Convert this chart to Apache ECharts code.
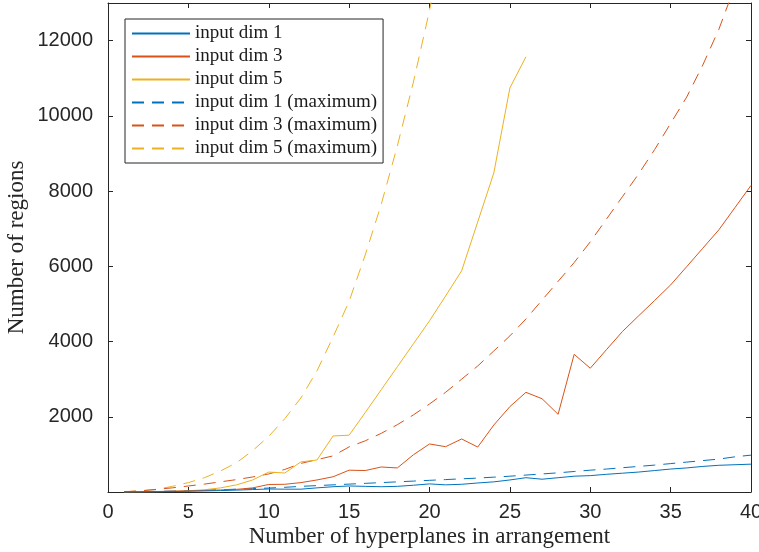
<!DOCTYPE html>
<html>
<head>
<meta charset="utf-8">
<script src="https://cdn.jsdelivr.net/npm/echarts@6/dist/echarts.min.js"></script>
<style>html,body{margin:0;padding:0;background:#fff;overflow:hidden;}#c{width:759px;height:552px;}</style>
</head>
<body>
<div id="c"></div>
<script>
var hyperplanes = [];
for (var i = 1; i <= 40; i++) hyperplanes.push(i);

var dim1 = [2,4,7,12,20,28,38,50,65,80,75,75,110,140,160,150,140,150,180,215,190,205,240,270,320,380,340,380,420,435,470,500,530,570,610,640,680,710,725,740];
var dim3 = [2,6,12,20,30,40,55,70,110,200,205,250,320,405,580,570,665,640,990,1277,1205,1410,1195,1780,2270,2650,2480,2065,3660,3290,3780,4265,4680,5090,5505,5990,6480,6970,7560,8150];
var dim5 = [2,4,8,16,32,60,110,190,320,530,505,800,850,1490,1510,2110,2720,3330,3940,4550,5210,5880,7180,8480,10740,11570];
var dim1Max = [5,10,18,25,35,45,60,75,90,105,125,150,170,190,210,230,250,270,290,310,330,350,370,395,420,450,480,510,545,580,610,645,680,715,755,795,835,875,935,980];
var dim3Max = [8,30,70,110,160,210,270,330,400,480,600,760,860,960,1200,1360,1560,1790,2050,2340,2650,3000,3350,3750,4150,4600,5100,5600,6100,6650,7250,7850,8450,9100,9800,10500,11350,12300,13450,14600];
var dim5Max = [5,30,70,150,250,380,560,780,1100,1480,1950,2500,3220,4120,5070,6300,7650,9200,10900,12800,15000];

var xTicks = [0,5,10,15,20,25,30,35,40];
var yTicks = [2000,4000,6000,8000,10000,12000];

var names = ['input dim 1','input dim 3','input dim 5','input dim 1 (maximum)','input dim 3 (maximum)','input dim 5 (maximum)'];
var colors = ['#0072BD','#D95319','#EDB120','#0072BD','#D95319','#EDB120'];
var datasets = [dim1, dim3, dim5, dim1Max, dim3Max, dim5Max];

function pairs(arr){ return arr.map(function(v,i){ return [hyperplanes[i], v]; }); }

var axisColor = '#262626';
var series = datasets.map(function(d, k){
  return {
    name: names[k], type: 'line', data: pairs(d), symbol: 'none', showSymbol: false,
    clip: true, animation: false,
    lineStyle: { color: colors[k], width: 1, type: k < 3 ? 'solid' : [12, 8] },
    itemStyle: { color: colors[k] },
    z: 10 - k
  };
});

var chart = echarts.init(document.getElementById('c'), null, {renderer: 'canvas'});
chart.setOption({
  backgroundColor: '#fff',
  animation: false,
  grid: { left: 108, right: 8, top: 3, bottom: 60, containLabel: false, outerBoundsMode: 'none' },
  legend: {
    orient: 'vertical', left: 125, top: 19,
    data: names,
    itemWidth: 58, itemHeight: 14, itemGap: 4,
    padding: [5, 6, 5, 6],
    itemStyle: { opacity: 0 },
    backgroundColor: '#fff', borderColor: axisColor, borderWidth: 1,
    textStyle: { fontFamily: 'Liberation Serif', fontSize: 19, lineHeight: 18, color: '#1a1a1a' }
  },
  xAxis: [{
    type: 'value', min: 0, max: 40, interval: 5, position: 'bottom',
    name: 'Number of hyperplanes in arrangement', nameLocation: 'middle', nameGap: 33,
    nameMoveOverlap: false,
    nameTextStyle: { fontFamily: 'Liberation Serif', fontSize: 23, color: '#262626' },
    axisLine: { show: true, lineStyle: { color: axisColor, width: 1 } },
    axisTick: { show: true, inside: true, length: 5, lineStyle: { color: axisColor } },
    axisLabel: { margin: 10, fontFamily: 'Liberation Sans', fontSize: 20, color: axisColor,
      formatter: function(v){ return xTicks.indexOf(v) >= 0 ? String(v) : ''; } },
    splitLine: { show: false }
  }, {
    type: 'value', min: 0, max: 40, interval: 5, position: 'top',
    axisLine: { show: true, onZero: false, lineStyle: { color: axisColor, width: 1 } },
    axisTick: { show: true, inside: true, length: 5, lineStyle: { color: axisColor } },
    axisLabel: { show: false }, splitLine: { show: false }
  }],
  yAxis: [{
    type: 'value', min: 0, max: 13000, interval: 2000, position: 'left',
    name: 'Number of regions', nameLocation: 'middle', nameGap: 80,
    nameMoveOverlap: false,
    nameTextStyle: { fontFamily: 'Liberation Serif', fontSize: 23, color: '#262626' },
    axisLine: { show: true, lineStyle: { color: axisColor, width: 1 } },
    axisTick: { show: true, inside: true, length: 5, lineStyle: { color: axisColor } },
    axisLabel: { margin: 15, fontFamily: 'Liberation Sans', fontSize: 20, color: axisColor,
      formatter: function(v){ return yTicks.indexOf(v) >= 0 ? String(v) : ''; } },
    splitLine: { show: false }
  }, {
    type: 'value', min: 0, max: 13000, interval: 2000, position: 'right',
    axisLine: { show: true, onZero: false, lineStyle: { color: axisColor, width: 1 } },
    axisTick: { show: true, inside: true, length: 5, lineStyle: { color: axisColor } },
    axisLabel: { show: false }, splitLine: { show: false }
  }],
  series: series
});
</script>
</body>
</html>
